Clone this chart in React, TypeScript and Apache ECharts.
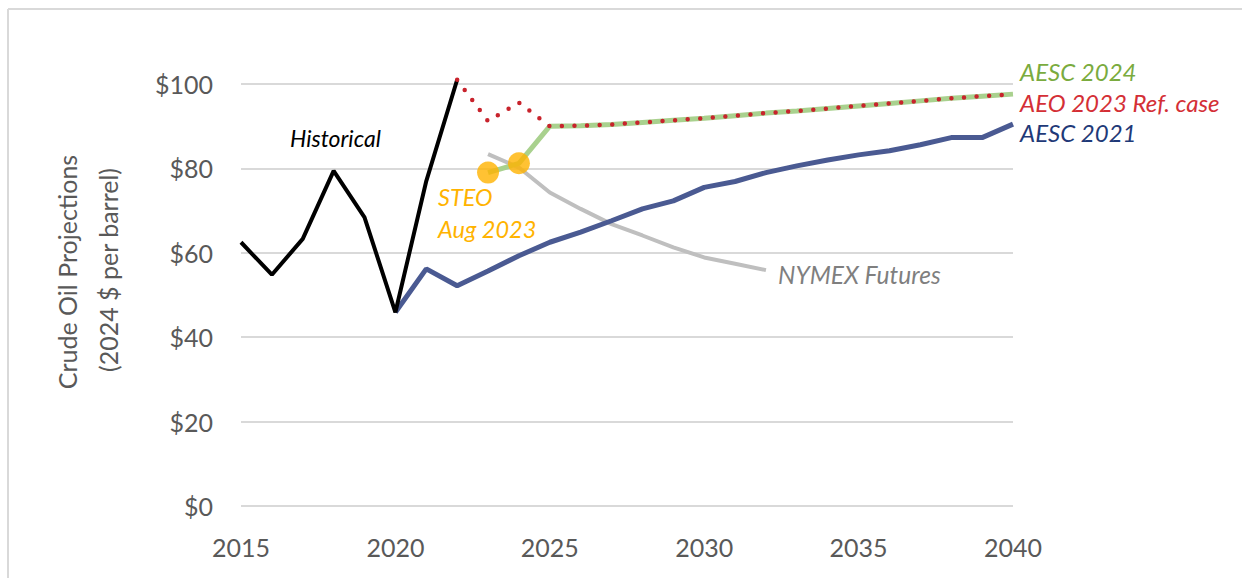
import React, { useEffect, useRef } from "react";
import * as echarts from "echarts";

const xTicks = [2015, 2020, 2025, 2030, 2035, 2040];
const yTicks = [0, 20, 40, 60, 80, 100];

const histYears = [2015, 2016, 2017, 2018, 2019, 2020, 2021, 2022];
const histValues = [62.5, 54.8, 63.3, 79.4, 68.4, 45.9, 77.0, 101.0];

const aesc2021Years = [2020, 2021, 2022, 2023, 2024, 2025, 2026, 2027, 2028, 2029, 2030, 2031, 2032, 2033, 2034, 2035, 2036, 2037, 2038, 2039, 2040];
const aesc2021Values = [45.9, 56.2, 52.2, 55.7, 59.3, 62.5, 64.9, 67.6, 70.4, 72.3, 75.5, 76.9, 79.0, 80.6, 82.0, 83.2, 84.2, 85.6, 87.3, 87.3, 90.5];

const aeoYears = [2022, 2023, 2024, 2025, 2026, 2027, 2028, 2029, 2030, 2031, 2032, 2033, 2034, 2035, 2036, 2037, 2038, 2039, 2040];
const aeoValues = [101.0, 91.2, 95.6, 90.0, 90.1, 90.4, 90.9, 91.4, 91.9, 92.5, 93.1, 93.6, 94.2, 94.8, 95.4, 96.0, 96.6, 97.1, 97.6];

const aesc2024Years = [2023, 2024, 2025, 2026, 2027, 2028, 2029, 2030, 2031, 2032, 2033, 2034, 2035, 2036, 2037, 2038, 2039, 2040];
const aesc2024Values = [79.0, 81.2, 90.0, 90.1, 90.4, 90.9, 91.4, 91.9, 92.5, 93.1, 93.6, 94.2, 94.8, 95.4, 96.0, 96.6, 97.1, 97.6];

const steoYears = [2023, 2024];
const steoValues = [79.0, 81.2];

const nymexYears = [2023, 2024, 2025, 2026, 2027, 2028, 2029, 2030, 2031, 2032];
const nymexValues = [83.4, 80.2, 74.3, 70.4, 66.8, 64.1, 61.3, 58.9, 57.4, 55.9];

const pairs = (xs: number[], ys: number[]) => xs.map((x, i) => [x, ys[i]]);

const FONT = "Lato, 'Open Sans', sans-serif";

export default function App() {
  const ref = useRef<HTMLDivElement>(null);
  useEffect(() => {
    document.body.style.margin = "0";
    const chart = echarts.init(ref.current!, null, { renderer: "svg" });
    const italic = (size: number, color: string) => ({
      fontFamily: FONT,
      fontStyle: "italic",
      fontSize: size,
      fill: color,
    });
    chart.setOption({
      animation: false,
      backgroundColor: "#ffffff",
      grid: { left: 241, right: 229, top: 84, bottom: 72, containLabel: false },
      xAxis: {
        type: "value",
        min: 2015,
        max: 2040,
        interval: 5,
        axisLine: { show: false },
        axisTick: { show: false },
        splitLine: { show: false },
        axisLabel: {
          color: "#595959",
          fontSize: 25,
          fontFamily: FONT,
          margin: 28,
          formatter: (v: number) => (xTicks.includes(v) ? String(v) : ""),
        },
      },
      yAxis: {
        type: "value",
        min: 0,
        max: 100,
        interval: 20,
        axisLine: { show: false },
        axisTick: { show: false },
        splitLine: { show: true, lineStyle: { color: "#D9D9D9", width: 2 } },
        axisLabel: {
          color: "#595959",
          fontSize: 25,
          fontFamily: FONT,
          margin: 28,
          formatter: (v: number) => (yTicks.includes(v) ? "$" + v : ""),
        },
      },
      series: [
        {
          name: "NYMEX Futures",
          type: "line",
          data: pairs(nymexYears, nymexValues),
          symbol: "none",
          clip: false,
          lineStyle: { color: "#BFBFBF", width: 4 },
          z: 2,
        },
        {
          name: "AESC 2021",
          type: "line",
          data: pairs(aesc2021Years, aesc2021Values),
          symbol: "none",
          clip: false,
          lineStyle: { color: "#4A5A92", width: 5 },
          z: 3,
        },
        {
          name: "Historical",
          type: "line",
          data: pairs(histYears, histValues),
          symbol: "none",
          clip: false,
          lineStyle: { color: "#000000", width: 4 },
          z: 4,
        },
        {
          name: "AESC 2024",
          type: "line",
          data: pairs(aesc2024Years, aesc2024Values),
          symbol: "none",
          clip: false,
          lineStyle: { color: "#A9D18E", width: 5 },
          z: 5,
        },
        {
          name: "AEO 2023 Ref. case",
          type: "line",
          data: pairs(aeoYears, aeoValues),
          symbol: "none",
          clip: false,
          lineStyle: { color: "#C8232C", width: 4.5, type: [0, 12.6], cap: "round" },
          z: 6,
        },
        {
          name: "STEO Aug 2023",
          type: "scatter",
          data: pairs(steoYears, steoValues),
          symbol: "circle",
          symbolSize: 22,
          clip: false,
          itemStyle: { color: "#FFB300" },
          z: 7,
        },
      ],
      graphic: [
        { type: "line", shape: { x1: 8, y1: 9, x2: 1242, y2: 9 }, style: { stroke: "#D9D9D9", lineWidth: 2 } },
        { type: "line", shape: { x1: 8, y1: 9, x2: 8, y2: 578 }, style: { stroke: "#D9D9D9", lineWidth: 2 } },
        {
          type: "text",
          x: 67,
          y: 272,
          rotation: Math.PI / 2,
          style: { text: "Crude Oil Projections", fontFamily: FONT, fontSize: 25, fill: "#595959", align: "center", verticalAlign: "middle" },
        },
        {
          type: "text",
          x: 108,
          y: 270,
          rotation: Math.PI / 2,
          style: { text: "(2024 $ per barrel)", fontFamily: FONT, fontSize: 25, fill: "#595959", align: "center", verticalAlign: "middle" },
        },
        { type: "text", x: 290, y: 138, style: { text: "Historical", ...italic(23, "#000000"), verticalAlign: "middle" } },
        { type: "text", x: 438, y: 197, style: { text: "STEO", ...italic(23.5, "#FFB300"), verticalAlign: "middle" } },
        { type: "text", x: 438, y: 229, style: { text: "Aug 2023", ...italic(23.5, "#FFB300"), verticalAlign: "middle" } },
        { type: "text", x: 778, y: 274, style: { text: "NYMEX Futures", ...italic(24.5, "#7F7F7F"), verticalAlign: "middle" } },
        { type: "text", x: 1020, y: 71, style: { text: "AESC 2024", ...italic(24, "#7AAB3E"), verticalAlign: "middle" } },
        { type: "text", x: 1020, y: 102, style: { text: "AEO 2023 Ref. case", ...italic(24, "#D42F36"), verticalAlign: "middle" } },
        { type: "text", x: 1020, y: 132, style: { text: "AESC 2021", ...italic(24, "#1F3A78"), verticalAlign: "middle" } },
      ],
    });
    return () => chart.dispose();
  }, []);
  return <div ref={ref} style={{ width: 1242, height: 578 }} />;
}
